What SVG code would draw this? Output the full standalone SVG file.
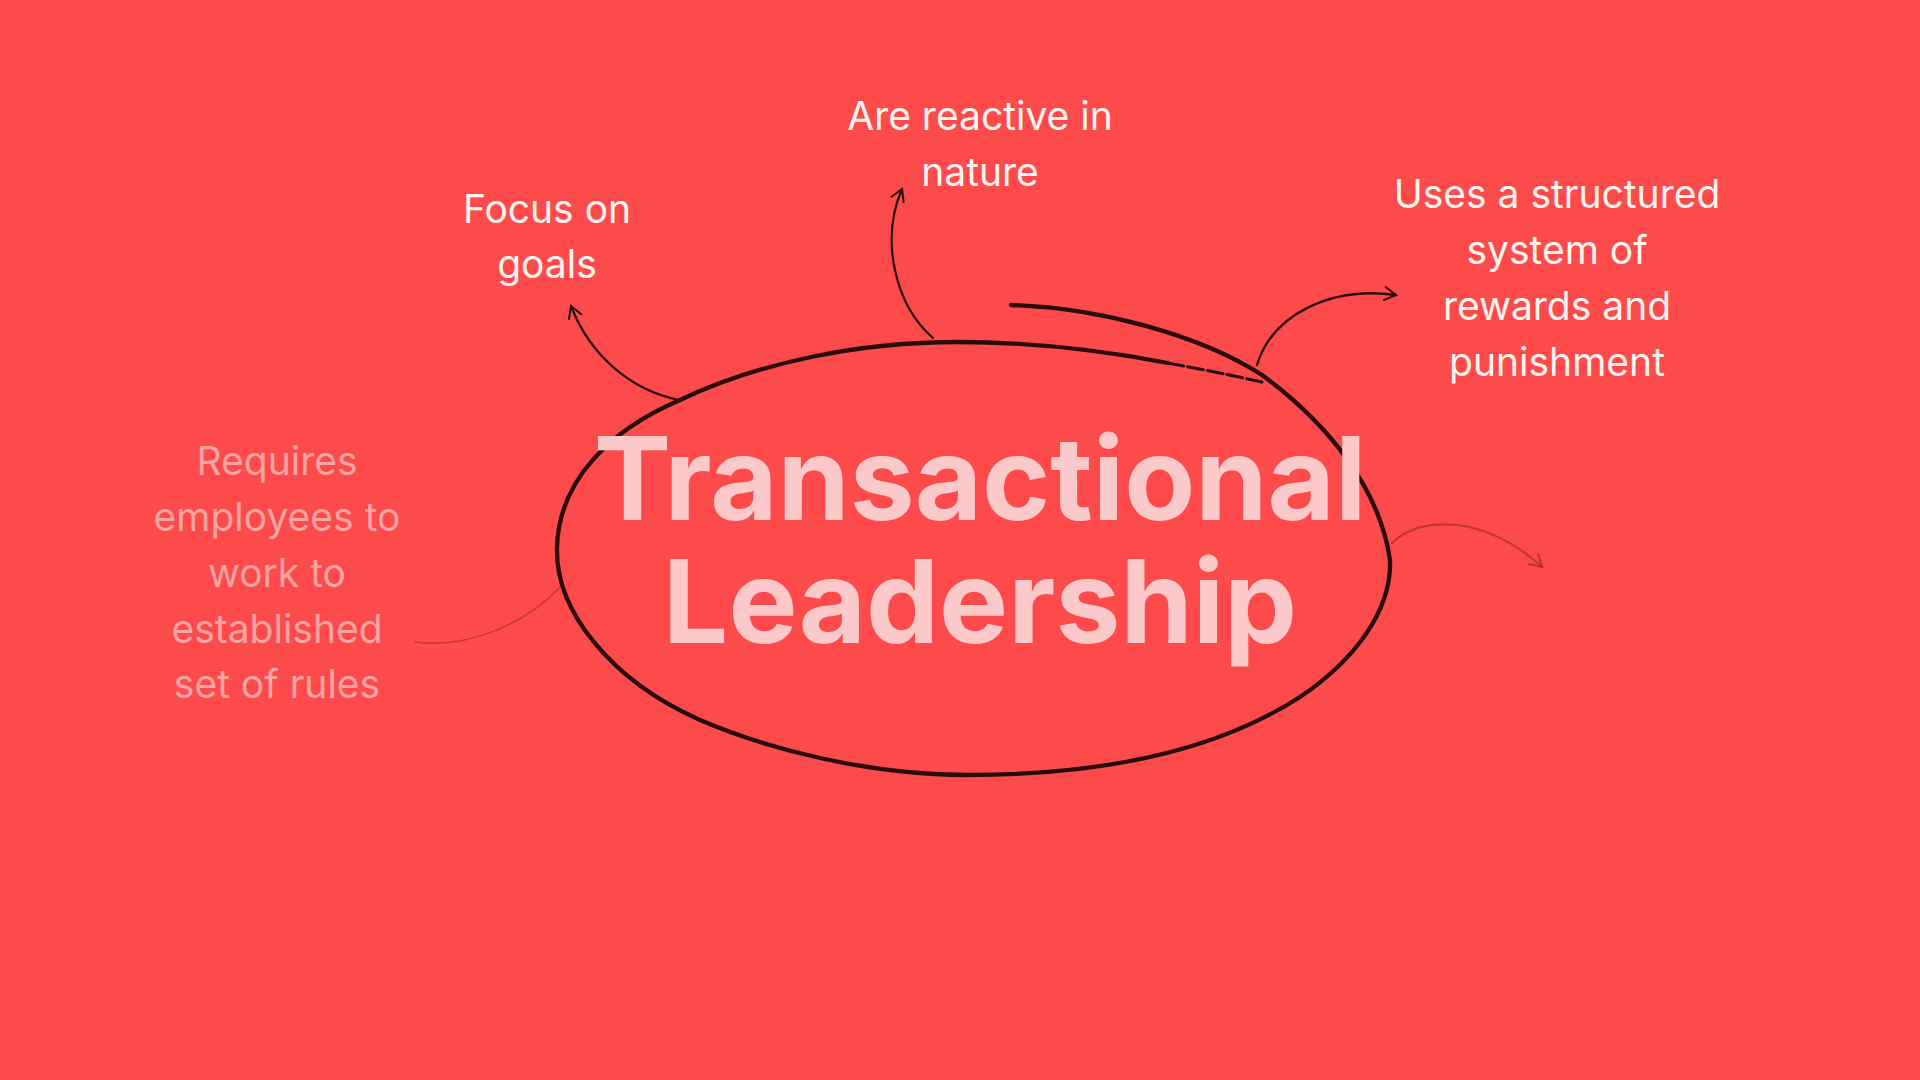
<svg xmlns="http://www.w3.org/2000/svg" width="1920" height="1080" viewBox="0 0 1920 1080">
<defs>
<style>
.lbl{font-family:Inter,"Open Sans","Liberation Sans",sans-serif;font-size:39px;fill:#FFF4F0;text-anchor:middle}
.faded{fill:#F6A3A3}
.title{font-family:Inter,"Liberation Sans",sans-serif;font-size:116px;font-weight:700;fill:#FBC9C9;text-anchor:middle}
.ink{fill:none;stroke:#2A0C0C;stroke-linecap:round;stroke-linejoin:round}
.faint{fill:none;stroke:#7A1E1E;stroke-opacity:0.45;stroke-linecap:round}
</style>
<marker id="head" viewBox="-14 -9 16 18" markerWidth="16" markerHeight="18" refX="0" refY="0" orient="auto" markerUnits="userSpaceOnUse">
<path d="M-12,-7 L0,0 L-12,7" fill="none" stroke="#2A0C0C" stroke-width="2"/>
</marker>
<marker id="headFaint" viewBox="-14 -9 16 18" markerWidth="16" markerHeight="18" refX="0" refY="0" orient="auto" markerUnits="userSpaceOnUse">
<path d="M-12,-7 L0,0 L-12,7" fill="none" stroke="#7A1E1E" stroke-opacity="0.5" stroke-width="2"/>
</marker>
</defs>
<rect width="1920" height="1080" fill="#FD4B4B"/>

<g id="center-node">
<path d="M1011,305 C1100,308 1200,335 1262,375 C1330,425 1380,490 1390,560 C1392,610 1355,660 1300,697 C1210,755 1090,775 968,775 C870,775 770,750 700,720 C610,680 555,610 557,547 C559,480 610,430 680,400 C760,362 860,342 958,342 C1030,342 1100,350 1168,363" class="ink" stroke-width="4.3"/>
<path d="M1168,363 C1200,369 1235,376 1262,382" class="ink" stroke-width="3" stroke-dasharray="16 4"/>
<text class="title" x="980" y="520">Transactional</text>
<text class="title" x="980" y="643">Leadership</text>
</g>

<g id="connectors">
<path d="M679,400 C630,390 590,355 571,306" class="ink" stroke-width="2.2" marker-end="url(#head)"/>
<path d="M933,338 C895,305 880,240 902,189" class="ink" stroke-width="2.2" marker-end="url(#head)"/>
<path d="M1257,365 C1272,315 1330,286 1396,295" class="ink" stroke-width="2.4" marker-end="url(#head)"/>
<path d="M1392,543 C1420,515 1485,515 1542,567" class="faint" stroke-width="2.2" marker-end="url(#headFaint)"/>
<path d="M560,587 C530,620 470,650 415,642" class="faint" stroke-width="1.5" stroke-opacity="0.2"/>
</g>

<g id="focus-on-goals">
<text class="lbl" x="547" y="223">Focus on</text>
<text class="lbl" x="547" y="278">goals</text>
</g>

<g id="reactive">
<text class="lbl" x="980" y="130">Are reactive in</text>
<text class="lbl" x="980" y="186">nature</text>
</g>

<g id="structured">
<text class="lbl" x="1557" y="208">Uses a structured</text>
<text class="lbl" x="1557" y="264">system of</text>
<text class="lbl" x="1557" y="320">rewards and</text>
<text class="lbl" x="1557" y="376">punishment</text>
</g>

<g id="rules">
<text class="lbl faded" x="277" y="475">Requires</text>
<text class="lbl faded" x="277" y="531">employees to</text>
<text class="lbl faded" x="277" y="587">work to</text>
<text class="lbl faded" x="277" y="643">established</text>
<text class="lbl faded" x="277" y="698">set of rules</text>
</g>
</svg>
